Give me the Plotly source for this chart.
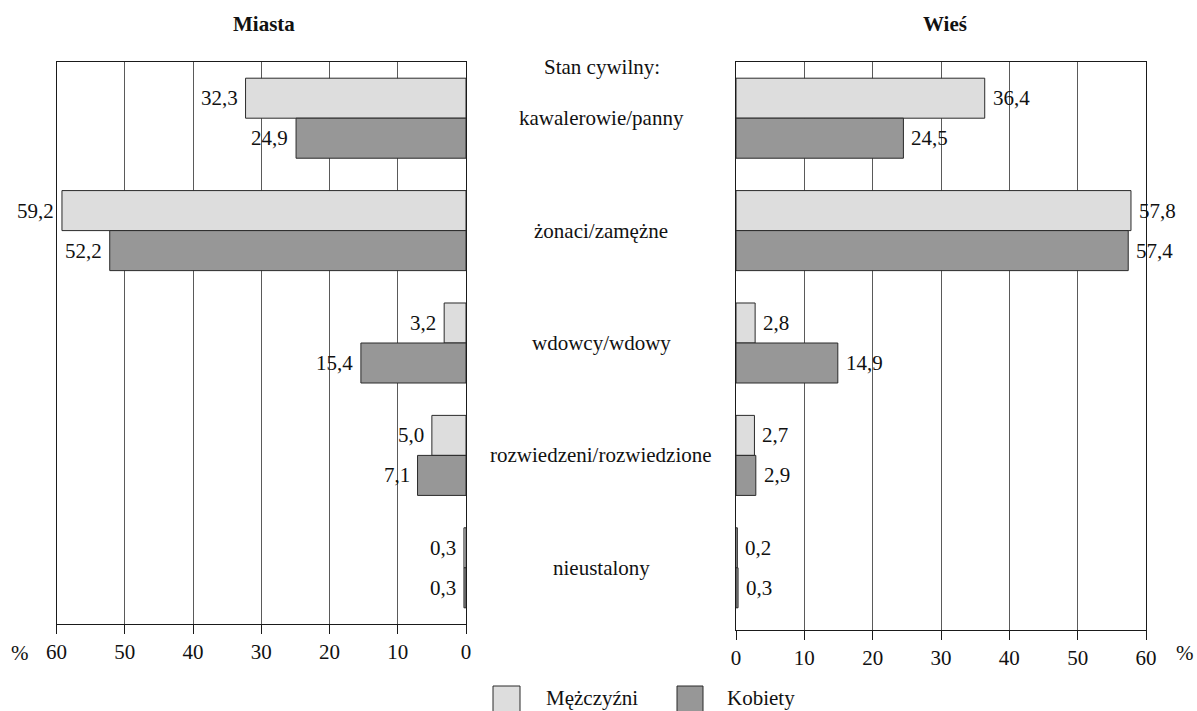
import plotly.graph_objects as go

# ---------------- data ----------------
categories = ["kawalerowie/panny", "żonaci/zamężne", "wdowcy/wdowy",
              "rozwiedzeni/rozwiedzione", "nieustalony"]
miasta_men = [32.3, 59.2, 3.2, 5.0, 0.3]
miasta_women = [24.9, 52.2, 15.4, 7.1, 0.3]
wies_men = [36.4, 57.8, 2.8, 2.7, 0.2]
wies_women = [24.5, 57.4, 14.9, 2.9, 0.3]
series_names = ["Mężczyźni", "Kobiety"]
tick_vals = [0, 10, 20, 30, 40, 50, 60]
panel_titles = ["Miasta", "Wieś"]
center_header = "Stan cywilny:"

# ---------------- style ----------------
W, H = 1197, 711
FONT = "'Liberation Serif', 'Times New Roman', Times, 'DejaVu Serif', serif"
FS = 21
C_LIGHT = "#dddddd"
C_DARK = "#979797"
C_EDGE = "#2a2a2a"
C_AXIS = "#1a1a1a"
C_GRID = "#5a5a5a"
BAR_W = 0.356

pos = list(range(len(categories)))
men_pos = [p - BAR_W / 2 for p in pos]
women_pos = [p + BAR_W / 2 for p in pos]


def fmt(v):
    return f"{v:.1f}".replace(".", ",")


def px_x(v):
    return v / W


def px_y(v):
    return 1 - v / H


fig = go.Figure()

panels = [
    ("x", "y", miasta_men, miasta_women),
    ("x2", "y2", wies_men, wies_women),
]
for xa, ya, men, women in panels:
    for vals, ypos, col, name in [(men, men_pos, C_LIGHT, series_names[0]),
                                  (women, women_pos, C_DARK, series_names[1])]:
        fig.add_trace(go.Bar(
            x=vals, y=ypos, orientation="h", width=BAR_W,
            marker=dict(color=col, line=dict(color=C_EDGE, width=1)),
            name=name, showlegend=False, xaxis=xa, yaxis=ya,
            hoverinfo="x+name",
        ))

txtfont = dict(family=FONT, size=FS, color="#111")

# value labels
annotations = []
for vals, ypos in [(miasta_men, men_pos), (miasta_women, women_pos)]:
    for v, yy in zip(vals, ypos):
        annotations.append(dict(x=v, y=yy, xref="x", yref="y", text=fmt(v),
                                showarrow=False, xanchor="right", xshift=-6,
                                font=txtfont))
for vals, ypos in [(wies_men, men_pos), (wies_women, women_pos)]:
    for v, yy in zip(vals, ypos):
        annotations.append(dict(x=v, y=yy, xref="x2", yref="y2", text=fmt(v),
                                showarrow=False, xanchor="left", xshift=6,
                                font=txtfont))

# category labels in the middle
for c, p in zip(categories, pos):
    annotations.append(dict(x=px_x(601), y=p, xref="paper", yref="y", text=c,
                            showarrow=False, xanchor="center", yanchor="middle",
                            font=txtfont))
annotations.append(dict(x=px_x(602), y=px_y(67), xref="paper", yref="paper",
                        text=center_header, showarrow=False, xanchor="center",
                        yanchor="middle", font=txtfont))

# panel titles
annotations.append(dict(x=px_x(263.5), y=px_y(24), xref="paper", yref="paper",
                        text=f"<b>{panel_titles[0]}</b>", showarrow=False,
                        xanchor="center", yanchor="middle", font=txtfont))
annotations.append(dict(x=px_x(945), y=px_y(24), xref="paper", yref="paper",
                        text=f"<b>{panel_titles[1]}</b>", showarrow=False,
                        xanchor="center", yanchor="middle", font=txtfont))

# percent signs
for xx in (20, 1185):
    annotations.append(dict(x=px_x(xx), y=px_y(653), xref="paper", yref="paper",
                            text="%", showarrow=False, xanchor="center",
                            yanchor="middle", font=txtfont))

# legend (custom, large swatches)
shapes = []
legend_items = [(493, 520, 544, C_LIGHT, series_names[0]),
                (677, 703, 725, C_DARK, series_names[1])]
for x0, x1, tx, col, name in legend_items:
    shapes.append(dict(type="rect", xref="paper", yref="paper",
                       x0=px_x(x0), x1=px_x(x1), y0=px_y(716), y1=px_y(686),
                       fillcolor=col, line=dict(color=C_EDGE, width=1)))
    annotations.append(dict(x=px_x(tx), y=px_y(698), xref="paper", yref="paper",
                            text=name, showarrow=False, xanchor="left",
                            yanchor="middle", font=txtfont))

axis_common = dict(
    tickvals=tick_vals, ticktext=[str(t) for t in tick_vals],
    showgrid=True, gridcolor=C_GRID, gridwidth=1, zeroline=False,
    showline=True, linecolor=C_AXIS, linewidth=1, mirror=True,
    ticks="outside", ticklen=9, tickcolor=C_AXIS, tickwidth=1,
    tickfont=txtfont, automargin=False,
    fixedrange=True,
)
yaxis_common = dict(
    showgrid=False, zeroline=False, showticklabels=False, ticks="",
    showline=True, linecolor=C_AXIS, linewidth=1, mirror=True,
    automargin=False, fixedrange=True,
)

unit_px = (624 - 62) / 5.0
right_extra = (630 - 624) / unit_px

fig.update_layout(
    template="none",
    width=W, height=H,
    autosize=False,
    margin=dict(l=0, r=0, t=0, b=0, pad=0, autoexpand=False),
    paper_bgcolor="white", plot_bgcolor="white",
    barmode="overlay",
    showlegend=False,
    font=txtfont,
    xaxis=dict(domain=[px_x(56.5), px_x(466)], range=[60, 0], anchor="y",
               **axis_common),
    xaxis2=dict(domain=[px_x(736), px_x(1146)], range=[0, 60], anchor="y2",
                **axis_common),
    yaxis=dict(domain=[px_y(624), px_y(62)], range=[4.5, -0.5], anchor="x",
               **yaxis_common),
    yaxis2=dict(domain=[px_y(630), px_y(62)], range=[4.5 + right_extra, -0.5],
                anchor="x2", **yaxis_common),
    annotations=annotations,
    shapes=shapes,
)

fig.write_html(
    "out.html",
    config={"displayModeBar": False, "responsive": False},
    post_script="document.body.style.margin='0';document.body.style.overflow='hidden';",
)
